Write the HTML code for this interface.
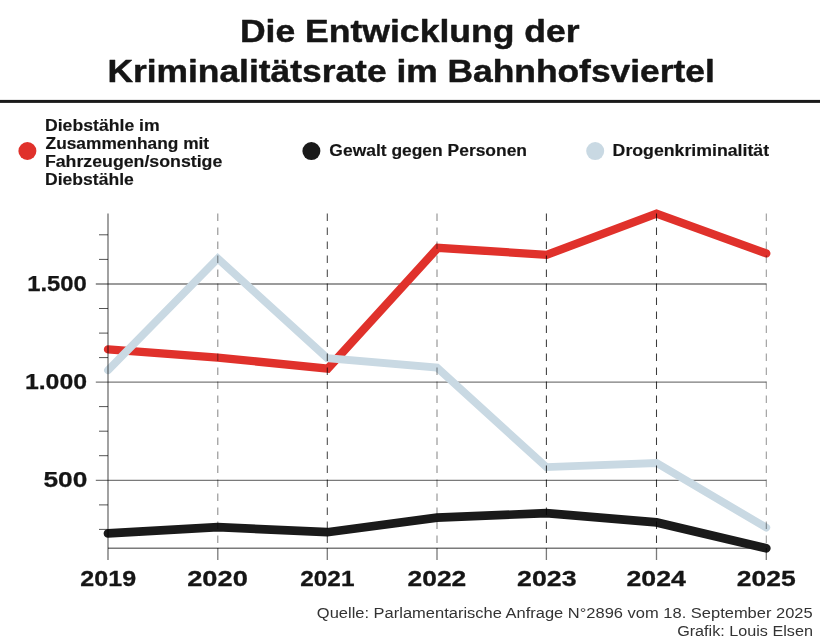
<!DOCTYPE html>
<html><head><meta charset="utf-8">
<style>
html,body{margin:0;padding:0;background:#fff;}
body{width:820px;height:642px;overflow:hidden;}
svg{display:block;}
text{font-family:"Liberation Sans",sans-serif;stroke-linejoin:round;}
</style></head><body>
<svg width="820" height="642" viewBox="0 0 820 642">
<rect width="820" height="642" fill="#fff"/>
<rect x="0" y="99.9" width="820" height="3" fill="#1a1a1a"/>
<circle cx="27.4" cy="151" r="9" fill="#e0312b"/>
<circle cx="311.4" cy="151.1" r="9" fill="#1a1a1a"/>
<circle cx="595.2" cy="151.1" r="9" fill="#c9d9e3"/>
<!-- horizontal grid -->
<g stroke="#7a7a7a" stroke-width="1.4" fill="none">
<line x1="95.8" y1="284" x2="766.3" y2="284"/>
<line x1="95.8" y1="382.1" x2="766.3" y2="382.1"/>
<line x1="95.8" y1="480.4" x2="766.3" y2="480.4"/>
<line x1="108" y1="548.3" x2="766.3" y2="548.3"/>
</g>
<path stroke="#555" stroke-width="1" fill="none" d="M99 234.8H108M99 259.4H108M99 308.5H108M99 333.1H108M99 357.6H108M99 406.6H108M99 431.2H108M99 455.7H108M99 504.9H108M99 529.4H108"/>
<!-- data lines -->
<g fill="none" stroke-linecap="round" stroke-linejoin="miter" stroke-miterlimit="10">
<polyline stroke="#e0312b" stroke-width="8.3" points="108,349.4 217.8,357.6 327.8,368.6 437.9,247.8 546.7,254.8 656.5,213.7 766.3,253.4"/>
<polyline stroke="#c9d9e3" stroke-width="7.8" points="108,370.2 217.8,258.5 327.3,358.2 437,367.6 546.4,467.1 656.5,463 766.3,527.6"/>
<polyline stroke="#1a1a1a" stroke-width="8.7" points="108,533.4 217.8,527.2 327.3,532.2 437,517.6 546.4,513.2 656.5,522.4 766.3,548.3"/>
</g>
<!-- axis + vertical dashed (above) -->
<g style="mix-blend-mode:multiply">
<line x1="108" y1="213.5" x2="108" y2="560" stroke="#7a7a7a" stroke-width="1.4"/>
<g fill="none" stroke-width="1.05" stroke-dasharray="7.5 6.5">
<line x1="217.8" y1="213.5" x2="217.8" y2="548" stroke="#8a8a8a"/>
<line x1="327.3" y1="213.5" x2="327.3" y2="548" stroke="#484848"/>
<line x1="437" y1="213.5" x2="437" y2="548" stroke="#8a8a8a"/>
<line x1="546.4" y1="213.5" x2="546.4" y2="548" stroke="#3c3c3c"/>
<line x1="656.5" y1="213.5" x2="656.5" y2="548" stroke="#3c3c3c"/>
<line x1="766.3" y1="213.5" x2="766.3" y2="548" stroke="#969696"/>
</g>
<path stroke="#7a7a7a" stroke-width="1.3" d="M217.8 548V560M327.3 548V560M437 548V560M546.4 548V560M656.5 548V560M766.3 548V560"/>
</g>
<text x="239.94" y="41.6" font-size="31.4" font-weight="bold" fill="#151515" stroke="#151515" stroke-width="0.45" textLength="339.65" lengthAdjust="spacingAndGlyphs">Die Entwicklung der</text>
<text x="107.44" y="81.6" font-size="31.4" font-weight="bold" fill="#151515" stroke="#151515" stroke-width="0.45" textLength="607.34" lengthAdjust="spacingAndGlyphs">Kriminalitätsrate im Bahnhofsviertel</text>
<text x="44.96" y="130.7" font-size="15.6" font-weight="bold" fill="#151515" stroke="#151515" stroke-width="0.15" textLength="114.75" lengthAdjust="spacingAndGlyphs">Diebstähle im</text>
<text x="45.59" y="148.9" font-size="15.6" font-weight="bold" fill="#151515" stroke="#151515" stroke-width="0.15" textLength="163.54" lengthAdjust="spacingAndGlyphs">Zusammenhang mit</text>
<text x="44.90" y="166.9" font-size="15.6" font-weight="bold" fill="#151515" stroke="#151515" stroke-width="0.15" textLength="177.44" lengthAdjust="spacingAndGlyphs">Fahrzeugen/sonstige</text>
<text x="45.07" y="185.1" font-size="15.6" font-weight="bold" fill="#151515" stroke="#151515" stroke-width="0.15" textLength="88.71" lengthAdjust="spacingAndGlyphs">Diebstähle</text>
<text x="329.38" y="156.4" font-size="15.6" font-weight="bold" fill="#151515" stroke="#151515" stroke-width="0.15" textLength="197.63" lengthAdjust="spacingAndGlyphs">Gewalt gegen Personen</text>
<text x="612.64" y="156.4" font-size="15.6" font-weight="bold" fill="#151515" stroke="#151515" stroke-width="0.15" textLength="156.46" lengthAdjust="spacingAndGlyphs">Drogenkriminalität</text>
<text x="27.20" y="290.5" font-size="21.2" font-weight="bold" fill="#151515" stroke="#151515" stroke-width="0.25" textLength="59.61" lengthAdjust="spacingAndGlyphs">1.500</text>
<text x="24.91" y="388.8" font-size="21.2" font-weight="bold" fill="#151515" stroke="#151515" stroke-width="0.25" textLength="62.13" lengthAdjust="spacingAndGlyphs">1.000</text>
<text x="43.46" y="487.3" font-size="21.2" font-weight="bold" fill="#151515" stroke="#151515" stroke-width="0.25" textLength="43.89" lengthAdjust="spacingAndGlyphs">500</text>
<text x="80.39" y="585.6" font-size="22.4" font-weight="bold" fill="#151515" stroke="#151515" stroke-width="0.3" textLength="55.76" lengthAdjust="spacingAndGlyphs">2019</text>
<text x="187.21" y="585.6" font-size="22.4" font-weight="bold" fill="#151515" stroke="#151515" stroke-width="0.3" textLength="60.61" lengthAdjust="spacingAndGlyphs">2020</text>
<text x="300.25" y="585.6" font-size="22.4" font-weight="bold" fill="#151515" stroke="#151515" stroke-width="0.3" textLength="54.19" lengthAdjust="spacingAndGlyphs">2021</text>
<text x="407.61" y="585.6" font-size="22.4" font-weight="bold" fill="#151515" stroke="#151515" stroke-width="0.3" textLength="58.62" lengthAdjust="spacingAndGlyphs">2022</text>
<text x="517.14" y="585.6" font-size="22.4" font-weight="bold" fill="#151515" stroke="#151515" stroke-width="0.3" textLength="59.39" lengthAdjust="spacingAndGlyphs">2023</text>
<text x="626.47" y="585.6" font-size="22.4" font-weight="bold" fill="#151515" stroke="#151515" stroke-width="0.3" textLength="59.38" lengthAdjust="spacingAndGlyphs">2024</text>
<text x="736.89" y="585.6" font-size="22.4" font-weight="bold" fill="#151515" stroke="#151515" stroke-width="0.3" textLength="58.89" lengthAdjust="spacingAndGlyphs">2025</text>
<text x="316.82" y="617.9" font-size="14.7" font-weight="normal" fill="#333" textLength="495.87" lengthAdjust="spacingAndGlyphs">Quelle: Parlamentarische Anfrage N°2896 vom 18. September 2025</text>
<text x="677.16" y="635.5" font-size="14.7" font-weight="normal" fill="#333" textLength="135.76" lengthAdjust="spacingAndGlyphs">Grafik: Louis Elsen</text>
</svg>
</body></html>
